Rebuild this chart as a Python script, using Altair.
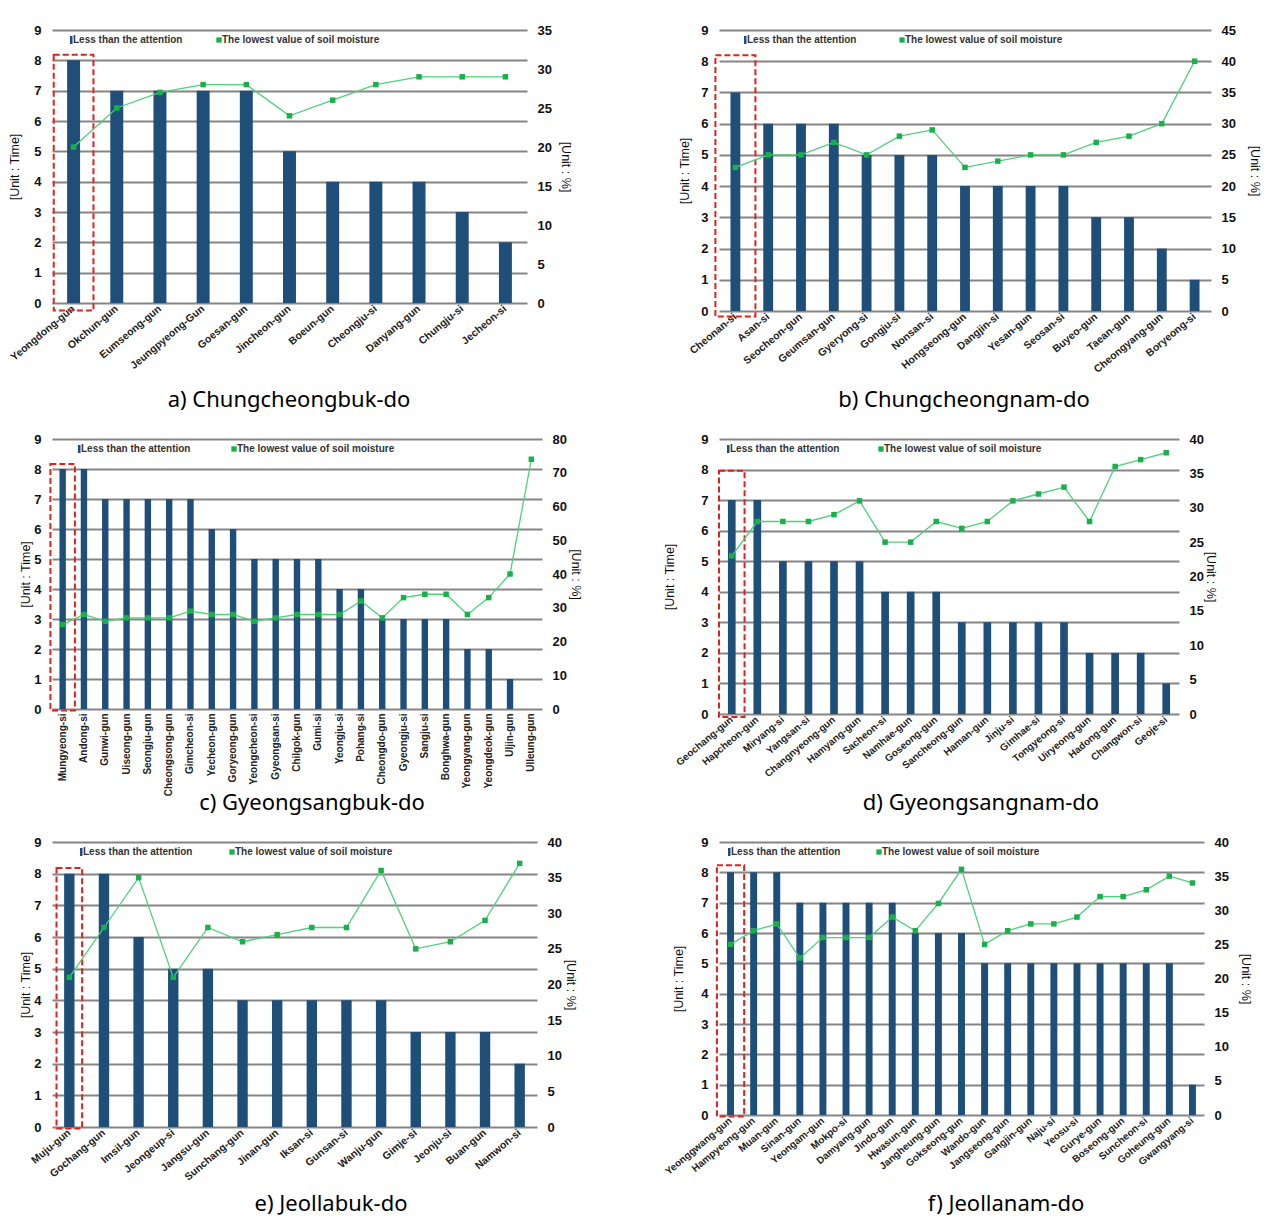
import altair as alt
import pandas as pd

# ---------------- data: times below attention level and lowest soil moisture ----------------
a_names = ["Yeongdong-gun", "Okchun-gun", "Eumseong-gun", "Jeungpyeong-Gun", "Goesan-gun",
           "Jincheon-gun", "Boeun-gun", "Cheongju-si", "Danyang-gun", "Chungju-si", "Jecheon-si"]
a_times = [8, 7, 7, 7, 7, 5, 4, 4, 4, 3, 2]
a_moisture = [20, 25, 27, 28, 28, 24, 26, 28, 29, 29, 29]

b_names = ["Cheonan-si", "Asan-si", "Seocheon-gun", "Geumsan-gun", "Gyeryong-si", "Gongju-si",
           "Nonsan-si", "Hongseong-gun", "Dangjin-si", "Yesan-gun", "Seosan-si", "Buyeo-gun",
           "Taean-gun", "Cheongyang-gun", "Boryeong-si"]
b_times = [7, 6, 6, 6, 5, 5, 5, 4, 4, 4, 4, 3, 3, 2, 1]
b_moisture = [23, 25, 25, 27, 25, 28, 29, 23, 24, 25, 25, 27, 28, 30, 40]

c_names = ["Mungyeong-si", "Andong-si", "Gunwi-gun", "Uiseong-gun", "Seongju-gun", "Cheongsong-gun",
           "Gimcheon-si", "Yecheon-gun", "Goryeong-gun", "Yeongcheon-si", "Gyeongsan-si", "Chilgok-gun",
           "Gumi-si", "Yeongju-si", "Pohang-si", "Cheongdo-gun", "Gyeongju-si", "Sangju-si",
           "Bonghwa-gun", "Yeongyang-gun", "Yeongdeok-gun", "Uljin-gun", "Ulleung-gun"]
c_times = [8, 8, 7, 7, 7, 7, 7, 6, 6, 5, 5, 5, 5, 4, 4, 3, 3, 3, 3, 2, 2, 1, 0]
c_moisture = [25, 28, 26, 27, 27, 27, 29, 28, 28, 26, 27, 28, 28, 28, 32, 27, 33, 34, 34, 28, 33, 40, 74]

d_names = ["Geochang-gun", "Hapcheon-gun", "Miryang-si", "Yangsan-si", "Changnyeong-gun", "Hamyang-gun",
           "Sacheon-si", "Namhae-gun", "Goseong-gun", "Sancheong-gun", "Haman-gun", "Jinju-si",
           "Gimhae-si", "Tongyeong-si", "Uiryeong-gun", "Hadong-gun", "Changwon-si", "Geoje-si"]
d_times = [7, 7, 5, 5, 5, 5, 4, 4, 4, 3, 3, 3, 3, 3, 2, 2, 2, 1]
d_moisture = [23, 28, 28, 28, 29, 31, 25, 25, 28, 27, 28, 31, 32, 33, 28, 36, 37, 38]

e_names = ["Muju-gun", "Gochang-gun", "Imsil-gun", "Jeongeup-si", "Jangsu-gun", "Sunchang-gun",
           "Jinan-gun", "Iksan-si", "Gunsan-si", "Wanju-gun", "Gimje-si", "Jeonju-si", "Buan-gun",
           "Namwon-si"]
e_times = [8, 8, 6, 5, 5, 4, 4, 4, 4, 4, 3, 3, 3, 2]
e_moisture = [21, 28, 35, 21, 28, 26, 27, 28, 28, 36, 25, 26, 29, 37]

f_names = ["Yeonggwang-gun", "Hampyeong-gun", "Muan-gun", "Sinan-gun", "Yeongam-gun", "Mokpo-si",
           "Damyang-gun", "Jindo-gun", "Hwasun-gun", "Jangheung-gun", "Gokseong-gun", "Wando-gun",
           "Jangseong-gun", "Gangjin-gun", "Naju-si", "Yeosu-si", "Gurye-gun", "Boseong-gun",
           "Suncheon-si", "Goheung-gun", "Gwangyang-si"]
f_times = [8, 8, 8, 7, 7, 7, 7, 7, 6, 6, 6, 5, 5, 5, 5, 5, 5, 5, 5, 5, 1]
f_moisture = [25, 27, 28, 23, 26, 26, 26, 29, 27, 31, 36, 25, 27, 28, 28, 29, 32, 32, 33, 35, 34]

captions = ["a) Chungcheongbuk-do", "b) Chungcheongnam-do", "c) Gyeongsangbuk-do",
            "d) Gyeongsangnam-do", "e) Jeollabuk-do", "f) Jeollanam-do"]
right_max = [35, 45, 80, 40, 40, 40]
right_step = [5, 5, 10, 5, 5, 5]

# ---------------- styling ----------------
FONT = "Liberation Sans"
NAVY = "#1f4e79"
LINE_GREEN = "#4fd07a"
POINT_GREEN = "#18b04a"
BOX_RED = "#e0221c"
GRID = "#858585"

# per-panel layout settings
layout = [
    dict(w=475, h=273, angle=-40, lsize=10.5, box=0.92, lo=-0.25, hi=8.18, ltp=12, rtp=7, leg=(18, 164), cap=(237, 370)),
    dict(w=492, h=281, angle=-40, lsize=10.5, box=1.22, lo=-0.18, hi=8.19, ltp=9, rtp=12, leg=(25, 180), cap=(245, 370)),
    dict(w=490, h=270, angle=-90, lsize=10, box=1.15, lo=-0.05, hi=8.17, ltp=1, rtp=2, leg=(26, 179), cap=(260, 364)),
    dict(w=460, h=275, angle=-40, lsize=10, box=1.0, lo=-0.1, hi=7.96, ltp=24, rtp=0, leg=(8, 159), cap=(262, 364)),
    dict(w=485, h=285, angle=-40, lsize=10.5, box=0.74, lo=-0.05, hi=8.18, ltp=1, rtp=2, leg=(28, 177), cap=(279, 362)),
    dict(w=485, h=273, angle=-40, lsize=10, box=1.18, lo=-0.05, hi=8.23, ltp=15, rtp=10, leg=(9, 157), cap=(287, 362)),
]


def panel(names, times, moisture, caption, rmax, rstep, p):
    df = pd.DataFrame({"region": names, "times": times, "moisture": moisture})

    x = alt.X(
        "region:N", sort=names,
        scale=alt.Scale(paddingInner=0, paddingOuter=0),
        axis=alt.Axis(title=None, labelAngle=p["angle"], labelAlign="right", labelBaseline="middle",
                      labelPadding=4, ticks=False, domain=False, labelFont=FONT,
                      labelFontSize=p["lsize"], labelFontWeight="bold", labelColor="#222222",
                      labelOverlap=False, labelLimit=0),
    )
    left_scale = alt.Scale(domain=[0, 9], nice=False)
    left_axis = alt.Axis(values=list(range(10)), title="[Unit : Time]", grid=True, gridColor=GRID,
                         gridWidth=1.9, ticks=False, domain=False, labelPadding=11,
                         titlePadding=p["ltp"], labelFont=FONT, labelFontSize=13,
                         labelFontWeight="bold", labelColor="#111111", titleFont=FONT,
                         titleFontSize=12.5, titleFontWeight="normal", titleColor="#111111")

    bars = alt.Chart(df).mark_bar(color=NAVY, width=alt.RelativeBandSize(0.3)).encode(
        x=x, y=alt.Y("times:Q", scale=left_scale, axis=left_axis)
    )
    # dashed frame around the leading region
    frame = alt.Chart(pd.DataFrame({"region": names[:1]})).mark_bar(
        fill="transparent", stroke=BOX_RED, strokeWidth=2, strokeDash=[6, 3],
        width=alt.RelativeBandSize(p["box"])
    ).encode(x=x, y=alt.YDatum(p["lo"], scale=left_scale, axis=left_axis), y2=alt.Y2Datum(p["hi"]))

    right_axis = alt.Axis(orient="right", values=list(range(0, rmax + 1, rstep)), title="[Unit : %]",
                          grid=False, ticks=False, domain=False, labelPadding=10,
                          titlePadding=p["rtp"], labelFont=FONT, labelFontSize=13,
                          labelFontWeight="bold", labelColor="#111111", titleFont=FONT,
                          titleFontSize=12.5, titleFontWeight="normal", titleColor="#111111")
    ry = alt.Y("moisture:Q", scale=alt.Scale(domain=[0, rmax], nice=False), axis=right_axis)
    line = alt.Chart(df).mark_line(color=LINE_GREEN, strokeWidth=1.3).encode(x=x, y=ry)
    pts = alt.Chart(df).mark_point(shape="square", filled=True, size=30, opacity=1,
                                   color=POINT_GREEN).encode(x=x, y=ry)

    # in-plot legend
    lx1, lx2 = p["leg"]
    ly = 10
    one = pd.DataFrame({"k": [0]})
    leg_bar = alt.Chart(one).mark_rect(color=NAVY).encode(
        x=alt.value(lx1), x2=alt.value(lx1 + 2.5), y=alt.value(ly - 4), y2=alt.value(ly + 4))
    leg_pt = alt.Chart(one).mark_point(shape="square", filled=True, size=28, opacity=1,
                                       color=POINT_GREEN).encode(x=alt.value(lx2 + 3), y=alt.value(ly))
    leg_txt1 = alt.Chart(one).mark_text(align="left", baseline="middle", font=FONT, fontSize=10,
                                        fontWeight="bold", color="#333333").encode(
        x=alt.value(lx1 + 3), y=alt.value(ly), text=alt.value("Less than the attention"))
    leg_txt2 = alt.Chart(one).mark_text(align="left", baseline="middle", font=FONT, fontSize=10,
                                        fontWeight="bold", color="#333333").encode(
        x=alt.value(lx2 + 6), y=alt.value(ly), text=alt.value("The lowest value of soil moisture"))

    cx, cy = p["cap"]
    cap = alt.Chart(one).mark_text(align="center", baseline="middle", font="Noto Sans", fontSize=22,
                                   color="#000000").encode(
        x=alt.value(cx), y=alt.value(cy), text=alt.value(caption))

    return alt.layer(
        alt.layer(bars, frame),
        alt.layer(line, pts),
        leg_bar, leg_pt, leg_txt1, leg_txt2, cap,
    ).resolve_scale(y="independent").properties(width=p["w"], height=p["h"])


series = [
    (a_names, a_times, a_moisture),
    (b_names, b_times, b_moisture),
    (c_names, c_times, c_moisture),
    (d_names, d_times, d_moisture),
    (e_names, e_times, e_moisture),
    (f_names, f_times, f_moisture),
]

charts = [panel(n, t, m, captions[i], right_max[i], right_step[i], layout[i])
          for i, (n, t, m) in enumerate(series)]

chart = alt.concat(
    *charts, columns=2, spacing={"row": 128, "column": 177}, align="none", bounds="flush"
).properties(
    padding={"left": 8, "top": 24, "right": 5, "bottom": 5}, background="white"
).configure_view(stroke=None)

chart.save("out.html", embed_options={"renderer": "svg", "actions": False})
